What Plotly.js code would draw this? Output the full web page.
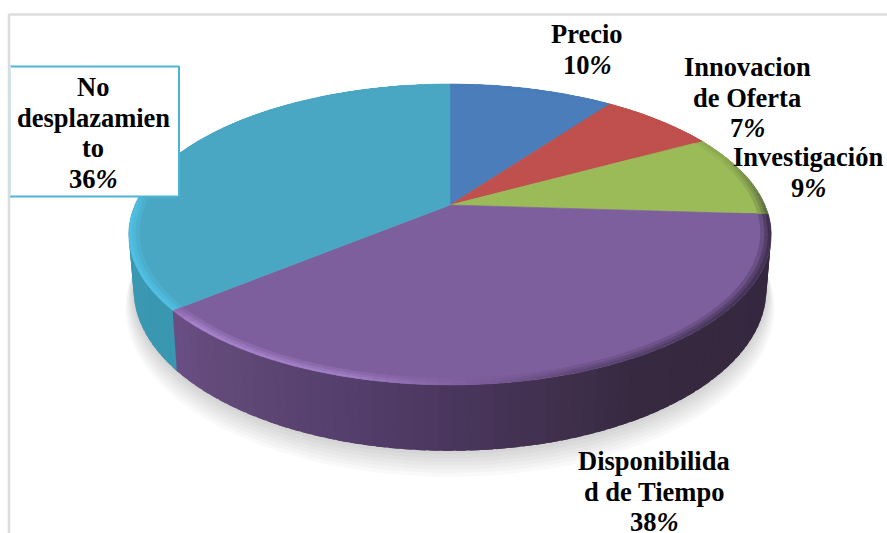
<!DOCTYPE html>
<html><head><meta charset="utf-8">
<script src="https://cdn.plot.ly/plotly-3.0.1.min.js"></script>
<style>html,body{margin:0;padding:0;background:#fff}#c{width:887px;height:533px}</style>
</head><body><div id="c"></div>
<script>
const categories = ["Precio","Innovacion<br>de Oferta","Investigación","Disponibilida<br>d de Tiempo","No<br>desplazamien<br>to"];
const values = [10,7,9,38,36];
const topColors = ["#4a7dba","#c0504d","#9bbb59","#7e5f9d","#4aa7c3"];
const labelX = [587,747,808,654,93];
const labelTop = [34,67,157,461,87];

// view of the tilted disc
const CX=450, CY=205, A=315, B=144.7, K=0.196, DROP=53, NARROW=0.985, LINE=30.6;

function proj(r,deg,drop,narrow){
  const t=deg*Math.PI/180, u=r*Math.sin(t), v=r*Math.cos(t), d=1+K*v;
  return [CX+(narrow||1)*A*u/d, CY-B*v/d+(drop||0)/d];
}
function hex(c){return [1,3,5].map(i=>parseInt(c.substr(i,2),16));}
function ramp(stops,deg){
  if(deg<=stops[0][0]) return stops[0][1];
  for(let i=1;i<stops.length;i++){
    if(deg<=stops[i][0]){
      const f=(deg-stops[i-1][0])/(stops[i][0]-stops[i-1][0]);
      const a=hex(stops[i-1][1]), b=hex(stops[i][1]);
      return "rgb("+a.map((x,j)=>Math.round(x+(b[j]-x)*f)).join(",")+")";
    }
  }
  return stops[stops.length-1][1];
}
const sideRamps = [
  [[0,"#3f6a9e"]],
  [[0,"#a34340"]],
  [[0,"#3a2b45"]],
  [[95,"#33263f"],[150,"#37293f"],[172,"#453355"],[190,"#513c68"],[215,"#604877"],[232,"#6a4f86"]],
  [[230,"#3a97b0"],[270,"#3c99b3"],[300,"#3c99b3"]]
];
const rimRamps = [
  [[0,"#4a7dba"]],
  [[0,"#c0504d"]],
  [[0,"#9bbb59"],[70,"#8aa84e"],[94,"#5d6b45"]],
  [[94,"#40304f"],[130,"#48365a"],[160,"#5e4776"],[178,"#80609f"],[195,"#a07dc4"],[225,"#a681cb"],[231,"#8d6cae"]],
  [[231,"#4fbfe2"],[268,"#4fbfe2"],[285,"#4aa7c3"]]
];

const traces=[];
function poly(pts,color,extra){
  traces.push(Object.assign({type:"scatter",mode:"lines",fill:"toself",
    x:pts.map(p=>p[0]),y:pts.map(p=>p[1]),
    fillcolor:color,line:{width:0},hoverinfo:"skip",showlegend:false},extra||{}));
}
// soft shadow under the disc
for(let i=7;i>=1;i--){
  const pts=[]; for(let a=0;a<=360;a+=3) pts.push(proj(1+i*0.0035,a,DROP+i*2.3,NARROW));
  poly(pts,"rgba(0,0,0,0.022)");
}
const total=values.reduce((s,v)=>s+v,0);
const spans=[]; let acc=0;
values.forEach(v=>{spans.push([acc/total*360,(acc+v)/total*360]);acc+=v;});

// wall of the disc; every strip runs on under the next one so no seam shows
const STEP=2, OVER=1.5;
spans.forEach((s,i)=>{
  for(let a=s[0];a<s[1];a+=STEP){
    const e=Math.min(a+STEP,s[1]), c=ramp(sideRamps[i],(a+e)/2), f=e+OVER;
    poly([proj(1,a),proj(1,f),proj(1,f,DROP,NARROW),proj(1,a,DROP,NARROW),proj(1,a)],c);
  }
});
// flat top slices
spans.forEach((s,i)=>{
  const pts=[[CX,CY]];
  for(let a=s[0];a<s[1];a+=1) pts.push(proj(1,a));
  pts.push(proj(1,s[1]),[CX,CY]);
  const pct=Math.round(values[i]/total*100);
  poly(pts,topColors[i],{line:{color:topColors[i],width:0.6},name:categories[i].replace(/<br>/g," "),hoverinfo:"text",hoveron:"fills",
    text:categories[i].replace(/<br>/g," ")+": "+pct+"%"});
});
// bevel along the rim
function blend(c1,c2,f){
  const p=x=>x[0]==="#"?hex(x):x.match(/\d+/g).map(Number);
  const a=p(c1),b=p(c2);
  return "rgb("+a.map((x,j)=>Math.round(x+(b[j]-x)*f)).join(",")+")";
}
const rings=[[0.968,0.98,0.35],[0.98,0.99,0.7],[0.99,1,1]];
rings.forEach(rg=>{
  spans.forEach((s,i)=>{
    for(let a=s[0];a<s[1];a+=STEP){
      const e=Math.min(a+STEP,s[1]), c=ramp(rimRamps[i],(a+e)/2);
      const f=Math.min(e+OVER,s[1]);
      poly([proj(rg[0],a),proj(rg[0],f),proj(rg[1],f),proj(rg[1],a)],blend(topColors[i],c,rg[2]));
    }
  });
});

const annotations=[];
categories.forEach((c,i)=>{
  const lines=c.split("<br>").map(t=>"<b>"+t+"</b>");
  lines.push("<b>"+Math.round(values[i]/total*100)+"<i>%</i></b>");
  lines.forEach((t,j)=>annotations.push({
    x:labelX[i],y:labelTop[i]+j*LINE,xref:"x",yref:"y",xanchor:"center",yanchor:"middle",showarrow:false,align:"center",
    text:t,font:{family:"'Liberation Serif','Times New Roman',serif",size:26.5,color:"#000"}
  }));
});
const gray={color:"#dcdcdc",width:2.5}, teal={color:"#4fb3d4",width:2};
const layout={
  width:887,height:533,margin:{l:0,r:0,t:0,b:0},paper_bgcolor:"#fff",plot_bgcolor:"#fff",showlegend:false,
  xaxis:{range:[0,887],visible:false,fixedrange:true},
  yaxis:{range:[533,0],visible:false,fixedrange:true},
  annotations,
  shapes:[
    {type:"line",x0:9,x1:887,y0:14.5,y1:14.5,line:gray,layer:"above"},
    {type:"line",x0:9,x1:9,y0:14,y1:533,line:gray,layer:"above"},
    {type:"rect",x0:10,x1:178.5,y0:66,y1:196,fillcolor:"#fff",line:{width:0},layer:"above"},
    {type:"line",x0:10,x1:179,y0:66.5,y1:66.5,line:teal,layer:"above"},
    {type:"line",x0:179,x1:179,y0:66,y1:196,line:teal,layer:"above"},
    {type:"line",x0:10,x1:179,y0:196.5,y1:196.5,line:teal,layer:"above"},
    {type:"line",x0:10.5,x1:10.5,y0:66,y1:196,line:{color:"#cfe7ef",width:1},layer:"above"}
  ]
};
Plotly.newPlot("c",traces,layout,{displayModeBar:false});
</script></body></html>
